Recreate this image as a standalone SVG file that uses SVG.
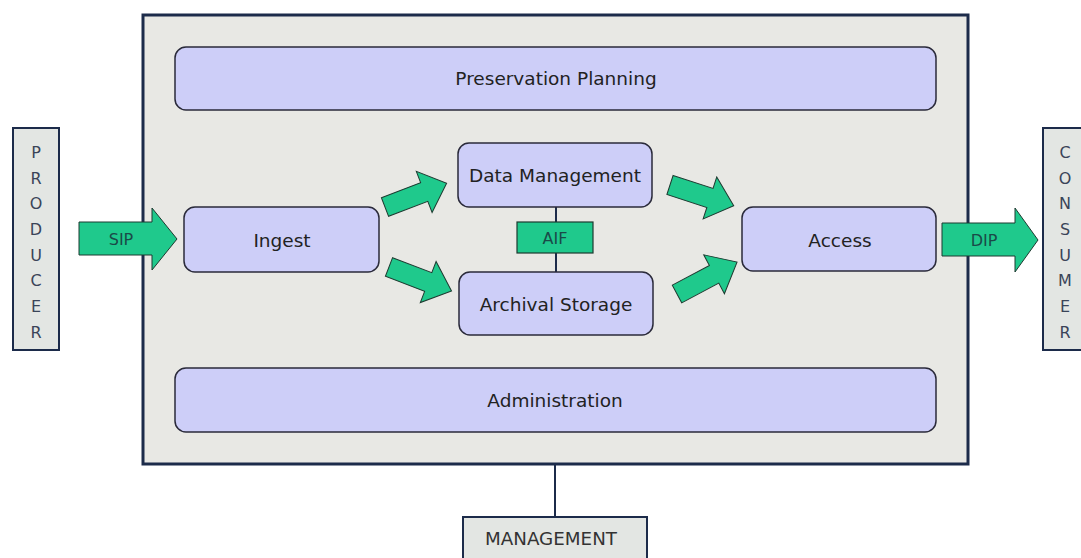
<svg xmlns="http://www.w3.org/2000/svg" width="1081" height="558" viewBox="0 0 1081 558">
<style>
.frame{fill:#e8e8e4;stroke:#1c2b4a;stroke-width:3}
.side{fill:#e3e6e3;stroke:#1c2b4a;stroke-width:2}
.box{fill:#cdcef8;stroke:#2a2a3a;stroke-width:1.5}
.lbl{font-family:"DejaVu Sans",sans-serif;font-size:18.5px;fill:#222;text-anchor:middle;dominant-baseline:central}
.vl{font-family:"DejaVu Sans",sans-serif;font-size:16px;fill:#3a4458;text-anchor:middle;dominant-baseline:central}
.arr{fill:#1fc98c;stroke:#1d3a30;stroke-width:1}
.al{font-family:"DejaVu Sans",sans-serif;font-size:16px;fill:#1a4a48;text-anchor:middle;dominant-baseline:central}
.ln{stroke:#1c2b4a;stroke-width:2;fill:none}
</style>
<rect width="1081" height="558" fill="#ffffff"/>
<g id="oais">
<rect class="frame" x="143" y="15" width="825" height="449"/>
</g>
<g id="connectors">
<line class="ln" x1="555" y1="465" x2="555" y2="517" stroke-width="2.5"/>
<line class="ln" x1="556" y1="207" x2="556" y2="272" stroke-width="1.5"/>
<path class="arr" d="M79,222 H152 V208 L177,239 L152,270 V255 H79 Z"/>
<text class="al" x="121" y="239">SIP</text>
<path class="arr" d="M942,223 H1015 V208 L1038,240 L1015,272 V256 H942 Z"/>
<text class="al" x="984" y="240">DIP</text>
<path class="arr" transform="translate(385,207) rotate(-21)" d="M0,-10 H42 V-22 L66,0 L42,22 V10 H0 Z"/>
<path class="arr" transform="translate(389,267) rotate(21)" d="M0,-10 H42 V-22 L67,0 L42,22 V10 H0 Z"/>
<path class="arr" transform="translate(670,185) rotate(18)" d="M0,-10 H42 V-22 L67,0 L42,22 V10 H0 Z"/>
<path class="arr" transform="translate(677,294) rotate(-28)" d="M0,-10 H42 V-22 L68,0 L42,22 V10 H0 Z"/>
</g>
<g id="producer">
<rect class="side" x="13" y="128" width="46" height="222"/>
<text class="vl" x="36" y="152">P</text>
<text class="vl" x="36" y="178">R</text>
<text class="vl" x="36" y="203">O</text>
<text class="vl" x="36" y="229">D</text>
<text class="vl" x="36" y="255">U</text>
<text class="vl" x="36" y="280">C</text>
<text class="vl" x="36" y="306">E</text>
<text class="vl" x="36" y="332">R</text>
</g>
<g id="consumer">
<rect class="side" x="1043" y="128" width="44" height="222"/>
<text class="vl" x="1065" y="152">C</text>
<text class="vl" x="1065" y="178">O</text>
<text class="vl" x="1065" y="203">N</text>
<text class="vl" x="1065" y="229">S</text>
<text class="vl" x="1065" y="255">U</text>
<text class="vl" x="1065" y="280">M</text>
<text class="vl" x="1065" y="306">E</text>
<text class="vl" x="1065" y="332">R</text>
</g>
<g id="preservation-planning">
<rect class="box" x="175" y="47" width="761" height="63" rx="11"/>
<text class="lbl" x="556" y="78">Preservation Planning</text>
</g>
<g id="ingest">
<rect class="box" x="184" y="207" width="195" height="65" rx="11"/>
<text class="lbl" x="282" y="240">Ingest</text>
</g>
<g id="data-management">
<rect class="box" x="458" y="143" width="194" height="64" rx="11"/>
<text class="lbl" x="555" y="175">Data Management</text>
</g>
<g id="aif">
<rect x="517" y="222" width="76" height="31" fill="#1fc98c" stroke="#1d3a30" stroke-width="1.2"/>
<text class="al" x="555" y="238">AIF</text>
</g>
<g id="archival-storage">
<rect class="box" x="459" y="272" width="194" height="63" rx="11"/>
<text class="lbl" x="556" y="304">Archival Storage</text>
</g>
<g id="access">
<rect class="box" x="742" y="207" width="194" height="64" rx="11"/>
<text class="lbl" x="840" y="240">Access</text>
</g>
<g id="administration">
<rect class="box" x="175" y="368" width="761" height="64" rx="11"/>
<text class="lbl" x="555" y="400">Administration</text>
</g>
<g id="management">
<rect class="side" x="463" y="517" width="184" height="45"/>
<text class="lbl" x="551" y="538" style="font-size:18.3px;fill:#333">MANAGEMENT</text>
</g>
</svg>
